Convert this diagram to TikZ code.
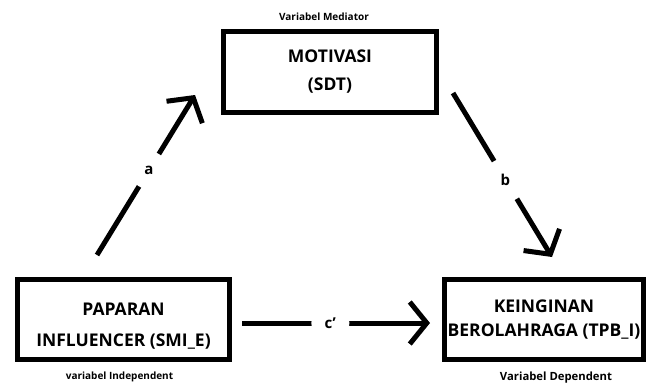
\documentclass[tikz,border=0pt]{standalone}
\usepackage{fontspec}
\setmainfont{Open Sans}
\usetikzlibrary{positioning,arrows.meta}
\tikzstyle{variabel}=[draw=black,line width=4.8pt,align=center,inner sep=0pt,font=\fontsize{17.5}{24}\selectfont\bfseries]
\tikzstyle{ket}=[inner sep=0pt,font=\fontsize{10}{12}\selectfont\bfseries]
\tikzstyle{jalur}=[line width=5pt,-{Straight Barb[length=17pt,width=42pt]}]
\tikzstyle{koef}=[circle,fill=white,inner sep=0pt,minimum size=38pt,font=\fontsize{15}{17}\selectfont\bfseries]

\begin{document}
\begin{tikzpicture}[x=1pt,y=-1pt]
    \useasboundingbox (0,0) rectangle (648,389);
    \node[variabel,minimum width=213pt,minimum height=81pt] (mot) at (330,72) {MOTIVASI\\[4pt](SDT)};
    \node[variabel,minimum width=212pt,minimum height=80pt] (pap) at (123.5,319.5) {\mbox{}\\[2pt]PAPARAN\\[7pt]INFLUENCER (SMI\_E)};
    \node[variabel,minimum width=199pt,minimum height=80pt] (kei) at (544,319.5) {KEINGINAN\\BEROLAHRAGA (TPB\_I)};
    \node[ket,above=8pt of mot,xshift=-6pt] (ketmot) {Variabel Mediator};
    \node[ket,below=10pt of pap,xshift=-4pt] (ketpap) {variabel Independent};
    \node[ket,below=10pt of kei,xshift=12pt,font=\fontsize{11.3}{13}\selectfont\bfseries] (ketkei) {Variabel Dependent};
    \coordinate (a0) at (97,255);
    \coordinate (a1) at (195,95);
    \coordinate (b0) at (453,93);
    \coordinate (b1) at (552,257);
    \coordinate (c0) at (242,323);
    \coordinate (c1) at (430,323);
    \draw[jalur] (a0) -- node[koef,pos=0.53] (ka) {a} (a1);
    \draw[jalur] (b0) -- node[koef,pos=0.53,minimum size=44pt] (kb) {b} (b1);
    \draw[jalur] (c0) -- node[koef,pos=0.47] (kc) {c'} (c1);
\end{tikzpicture}
\end{document}
